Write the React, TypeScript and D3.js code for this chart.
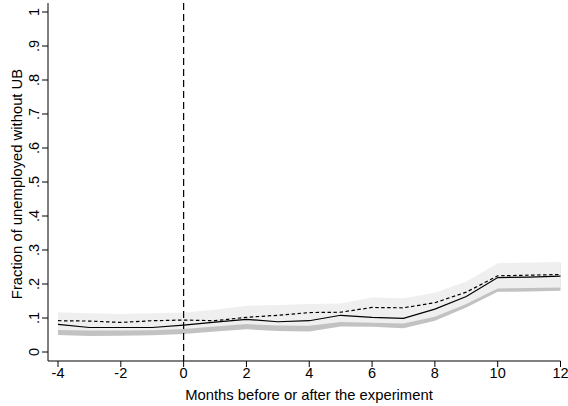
import React from "react";
import * as d3 from "d3";

const months = [-4, -3, -2, -1, 0, 1, 2, 3, 4, 5, 6, 7, 8, 9, 10, 11, 12];
const solidSeries = [0.081, 0.072, 0.072, 0.072, 0.079, 0.088, 0.096, 0.089, 0.092, 0.108, 0.102, 0.099, 0.126, 0.163, 0.219, 0.22, 0.223];
const dashedSeries = [0.092, 0.091, 0.087, 0.092, 0.094, 0.092, 0.102, 0.108, 0.116, 0.117, 0.131, 0.13, 0.145, 0.176, 0.224, 0.226, 0.228];
const dashedUpper = [0.117, 0.114, 0.112, 0.114, 0.116, 0.124, 0.136, 0.138, 0.141, 0.143, 0.16, 0.158, 0.174, 0.207, 0.261, 0.263, 0.265];
const dashedLower = [0.065, 0.063, 0.063, 0.064, 0.068, 0.075, 0.082, 0.078, 0.077, 0.088, 0.086, 0.084, 0.104, 0.141, 0.187, 0.188, 0.19];
const solidUpper = [0.112, 0.097, 0.096, 0.095, 0.105, 0.116, 0.125, 0.116, 0.124, 0.141, 0.13, 0.128, 0.16, 0.195, 0.258, 0.26, 0.262];
const solidLower = [0.05, 0.047, 0.048, 0.049, 0.053, 0.06, 0.067, 0.062, 0.06, 0.075, 0.074, 0.07, 0.092, 0.131, 0.177, 0.178, 0.18];
const xTicks = [-4, -2, 0, 2, 4, 6, 8, 10, 12];
const yTicks = [0, 0.1, 0.2, 0.3, 0.4, 0.5, 0.6, 0.7, 0.8, 0.9, 1];
const yTickLabels = ["0", ".1", ".2", ".3", ".4", ".5", ".6", ".7", ".8", ".9", "1"];
const xTitle = "Months before or after the experiment";
const yTitle = "Fraction of unemployed without UB";

const W = 568;
const H = 406;
const FONT = "'Liberation Sans', Arial, Helvetica, sans-serif";

export default function App() {
  const x = d3.scaleLinear().domain([-4, 12]).range([58, 560.5]);
  const y = d3.scaleLinear().domain([0, 1]).range([352, 12]);
  const axisX = 48;
  const axisY = 361;

  const band = (lo: number[], hi: number[]) =>
    d3
      .area<number>()
      .x((_, i) => x(months[i]))
      .y0((_, i) => y(lo[i]))
      .y1((_, i) => y(hi[i]))(months) || "";
  const line = (vals: number[]) =>
    d3
      .line<number>()
      .x((_, i) => x(months[i]))
      .y((_, i) => y(vals[i]))(months) || "";

  return (
    <div style={{ position: "absolute", left: 0, top: 0 }}>
      <svg width={W} height={H} style={{ display: "block", background: "#fff" }}>
        <rect width={W} height={H} fill="#fff" />
        <path d={band(solidLower, solidUpper)} fill="#c2c2c2" stroke="none" />
        <path d={band(dashedLower, dashedUpper)} fill="#efefef" stroke="none" />
        <path d={line(solidSeries)} fill="none" stroke="#000" strokeWidth={1.2} />
        <path d={line(dashedSeries)} fill="none" stroke="#000" strokeWidth={1.2} strokeDasharray="3.5,2.5" />
        <line x1={x(0)} x2={x(0)} y1={3} y2={axisY} stroke="#000" strokeWidth={1.2} strokeDasharray="7,4" />
        {/* axes */}
        <line x1={axisX} x2={axisX} y1={3} y2={axisY} stroke="#000" strokeWidth={1} />
        <line x1={axisX} x2={x(12)} y1={axisY} y2={axisY} stroke="#000" strokeWidth={1} />
        {yTicks.map((t, i) => (
          <g key={"y" + i}>
            <line x1={axisX - 6} x2={axisX} y1={y(t)} y2={y(t)} stroke="#000" strokeWidth={1} />
            <text
              transform={`translate(38.5,${y(t)}) rotate(-90)`}
              textAnchor="middle"
              fontFamily={FONT}
              fontSize={14.5}
              fill="#000"
            >
              {yTickLabels[i]}
            </text>
          </g>
        ))}
        {xTicks.map((t) => (
          <g key={"x" + t}>
            <line x1={x(t)} x2={x(t)} y1={axisY} y2={axisY + 6} stroke="#000" strokeWidth={1} />
            <text x={x(t)} y={378} textAnchor="middle" fontFamily={FONT} fontSize={14.5} fill="#000">
              {t}
            </text>
          </g>
        ))}
        <text x={309} y={400} textAnchor="middle" fontFamily={FONT} fontSize={14.8} fill="#000">
          {xTitle}
        </text>
        <text
          transform={`translate(22,184) rotate(-90)`}
          textAnchor="middle"
          fontFamily={FONT}
          fontSize={14.8}
          fill="#000"
        >
          {yTitle}
        </text>
      </svg>
    </div>
  );
}
